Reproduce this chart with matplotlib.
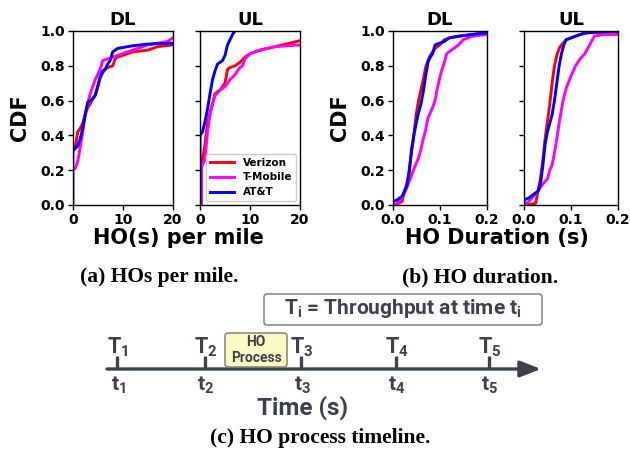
import matplotlib
matplotlib.use('Agg')
import matplotlib.pyplot as plt
from matplotlib.patches import FancyBboxPatch

plt.rcParams['font.family'] = ['DejaVu Sans']
plt.rcParams['mathtext.fontset'] = 'custom'
plt.rcParams['mathtext.rm'] = 'Roboto:bold'
plt.rcParams['mathtext.it'] = 'Roboto:italic'
plt.rcParams['mathtext.bf'] = 'Roboto:bold'

carriers = ['Verizon', 'T-Mobile', 'AT&T']
colors = ['#ff0000', '#ff00ff', '#0000ff']

# ---- (a) HOs per mile, DL ----
hos_dl_vz_x = [0, 0, 0.5, 1, 1.5, 2, 2.5, 3, 3.5, 4, 4.5, 5, 5.5, 6, 6.5, 7, 8, 8.5, 9, 10, 12, 15, 17, 20]
hos_dl_vz_y = [0, 0.31, 0.33, 0.42, 0.44, 0.47, 0.52, 0.56, 0.58, 0.61, 0.63, 0.68, 0.73, 0.76, 0.78, 0.79, 0.80, 0.84, 0.85, 0.86, 0.88, 0.89, 0.91, 0.92]
hos_dl_tm_x = [0, 0, 0.5, 1, 1.5, 2, 2.5, 3, 3.5, 4, 4.5, 5, 5.5, 6, 7, 8, 10, 12, 15, 19, 20]
hos_dl_tm_y = [0, 0.20, 0.21, 0.25, 0.33, 0.42, 0.52, 0.58, 0.64, 0.68, 0.72, 0.75, 0.78, 0.83, 0.84, 0.85, 0.87, 0.89, 0.92, 0.94, 0.96]
hos_dl_att_x = [0, 0, 1, 1.5, 2, 2.5, 3, 3.5, 4, 4.5, 5, 5.5, 6, 6.5, 7, 7.5, 8, 9, 10, 12, 15, 20]
hos_dl_att_y = [0, 0.31, 0.34, 0.38, 0.44, 0.52, 0.59, 0.60, 0.61, 0.63, 0.68, 0.74, 0.77, 0.78, 0.81, 0.83, 0.88, 0.90, 0.905, 0.915, 0.925, 0.93]

# ---- (a) HOs per mile, UL ----
hos_ul_vz_x = [0.3, 0.3, 1, 1.5, 2, 2.5, 3, 4, 5, 5.5, 6, 7, 8, 9, 10, 12, 15, 18, 20]
hos_ul_vz_y = [0, 0.22, 0.35, 0.47, 0.53, 0.58, 0.64, 0.66, 0.70, 0.78, 0.79, 0.80, 0.82, 0.85, 0.87, 0.89, 0.91, 0.93, 0.945]
hos_ul_tm_x = [0.3, 0.3, 1, 1.5, 2, 2.5, 3, 4, 5, 6, 7, 8, 8.5, 9, 10, 12, 15, 20]
hos_ul_tm_y = [0, 0.22, 0.26, 0.42, 0.52, 0.58, 0.63, 0.66, 0.68, 0.72, 0.75, 0.79, 0.80, 0.84, 0.87, 0.89, 0.91, 0.92]
hos_ul_att_x = [0, 0, 0.5, 1, 1.5, 2, 2.5, 3, 3.5, 4.5, 5, 5.5, 6, 6.5, 7]
hos_ul_att_y = [0, 0.40, 0.42, 0.48, 0.55, 0.64, 0.72, 0.77, 0.81, 0.83, 0.86, 0.92, 0.95, 0.98, 1.0]

# ---- (b) HO duration, DL ----
dur_dl_vz_x = [0.005, 0.02, 0.025, 0.03, 0.035, 0.04, 0.045, 0.05, 0.055, 0.06, 0.065, 0.07, 0.075, 0.08, 0.085, 0.09, 0.10, 0.11, 0.12, 0.14, 0.17, 0.20]
dur_dl_vz_y = [0, 0.02, 0.08, 0.12, 0.20, 0.30, 0.40, 0.52, 0.60, 0.66, 0.72, 0.79, 0.83, 0.86, 0.88, 0.90, 0.92, 0.95, 0.96, 0.97, 0.98, 0.99]
dur_dl_tm_x = [0, 0.01, 0.02, 0.03, 0.04, 0.05, 0.055, 0.06, 0.065, 0.07, 0.075, 0.08, 0.085, 0.09, 0.095, 0.10, 0.105, 0.11, 0.115, 0.12, 0.13, 0.14, 0.15, 0.17, 0.20]
dur_dl_tm_y = [0, 0.01, 0.04, 0.10, 0.17, 0.24, 0.27, 0.32, 0.38, 0.43, 0.50, 0.53, 0.56, 0.60, 0.67, 0.73, 0.78, 0.82, 0.87, 0.88, 0.90, 0.92, 0.95, 0.97, 0.98]
dur_dl_att_x = [0, 0, 0.01, 0.02, 0.03, 0.035, 0.04, 0.045, 0.05, 0.055, 0.06, 0.065, 0.07, 0.075, 0.08, 0.085, 0.09, 0.10, 0.11, 0.12, 0.14, 0.17, 0.20]
dur_dl_att_y = [0, 0.02, 0.03, 0.05, 0.11, 0.18, 0.32, 0.40, 0.47, 0.53, 0.58, 0.65, 0.74, 0.82, 0.85, 0.87, 0.92, 0.93, 0.94, 0.96, 0.97, 0.98, 0.99]

# ---- (b) HO duration, UL ----
dur_ul_vz_x = [0.005, 0.025, 0.03, 0.035, 0.04, 0.045, 0.05, 0.055, 0.06, 0.065, 0.07, 0.075, 0.08, 0.09, 0.10, 0.12, 0.14, 0.20]
dur_ul_vz_y = [0, 0.01, 0.08, 0.15, 0.25, 0.38, 0.48, 0.58, 0.70, 0.80, 0.86, 0.90, 0.92, 0.95, 0.96, 0.98, 0.99, 0.995]
dur_ul_tm_x = [0, 0.01, 0.02, 0.03, 0.04, 0.05, 0.055, 0.06, 0.065, 0.07, 0.075, 0.08, 0.085, 0.09, 0.10, 0.11, 0.12, 0.13, 0.14, 0.15, 0.17, 0.20]
dur_ul_tm_y = [0, 0.02, 0.05, 0.08, 0.12, 0.15, 0.20, 0.23, 0.30, 0.38, 0.47, 0.55, 0.62, 0.67, 0.74, 0.80, 0.84, 0.87, 0.92, 0.97, 0.98, 0.98]
dur_ul_att_x = [0, 0, 0.01, 0.02, 0.03, 0.035, 0.04, 0.045, 0.05, 0.055, 0.06, 0.065, 0.07, 0.075, 0.08, 0.085, 0.09, 0.10, 0.11, 0.13, 0.20]
dur_ul_att_y = [0, 0.03, 0.04, 0.06, 0.08, 0.12, 0.22, 0.35, 0.42, 0.47, 0.52, 0.60, 0.70, 0.80, 0.87, 0.92, 0.95, 0.96, 0.97, 0.99, 1.0]

panels = [
    ('DL', [(hos_dl_vz_x, hos_dl_vz_y), (hos_dl_tm_x, hos_dl_tm_y), (hos_dl_att_x, hos_dl_att_y)], (0, 20), [0, 10, 20], ['0', '10', '20']),
    ('UL', [(hos_ul_vz_x, hos_ul_vz_y), (hos_ul_tm_x, hos_ul_tm_y), (hos_ul_att_x, hos_ul_att_y)], (0, 20), [0, 10, 20], ['0', '10', '20']),
    ('DL', [(dur_dl_vz_x, dur_dl_vz_y), (dur_dl_tm_x, dur_dl_tm_y), (dur_dl_att_x, dur_dl_att_y)], (0, 0.2), [0, 0.1, 0.2], ['0.0', '0.1', '0.2']),
    ('UL', [(dur_ul_vz_x, dur_ul_vz_y), (dur_ul_tm_x, dur_ul_tm_y), (dur_ul_att_x, dur_ul_att_y)], (0, 0.2), [0, 0.1, 0.2], ['0.0', '0.1', '0.2']),
]
y_ticks = [0.0, 0.2, 0.4, 0.6, 0.8, 1.0]
y_ticklabels = ['0.0', '0.2', '0.4', '0.6', '0.8', '1.0']

timeline_idx = ['1', '2', '3', '4', '5']

W, H = 630, 450
fig = plt.figure(figsize=(6.3, 4.5), dpi=100)


def rect(l, t, r, b):
    return [l / W, 1 - b / H, (r - l) / W, (b - t) / H]


boxes = [(72.7, 31, 172.7, 205), (200, 31, 300, 205), (392.7, 31, 486.7, 205), (524, 31, 617.7, 205)]
for i, (title, series, xlim, xt, xtl) in enumerate(panels):
    ax = fig.add_axes(rect(*boxes[i]))
    for (xs, ys), c, name in zip(series, colors, carriers):
        ax.plot(xs, ys, color=c, lw=2.1, label=name, solid_joinstyle='round')
    ax.set_xlim(*xlim)
    ax.set_ylim(0, 1)
    ax.set_xticks(xt)
    ax.set_xticklabels(xtl, fontsize=10, fontweight='bold')
    ax.set_yticks(y_ticks)
    if i in (0, 2):
        ax.set_yticklabels(y_ticklabels, fontsize=10, fontweight='bold')
    else:
        ax.set_yticklabels([])
    ax.tick_params(length=3.5, width=1, pad=2)
    ax.set_title(title, fontsize=13, fontweight='bold', pad=4)
    for s in ax.spines.values():
        s.set_linewidth(1)
    if i == 1:
        ax.legend(loc='lower right', prop={'weight': 'bold', 'size': 7.5},
                  handlelength=2.3, borderaxespad=0.35, labelspacing=0.45,
                  handletextpad=0.8, framealpha=1, edgecolor='#cccccc')

fig.text(20 / W, 1 - 118 / H, 'CDF', rotation=90, ha='center', va='center', fontsize=15, fontweight='bold')
fig.text(340 / W, 1 - 118 / H, 'CDF', rotation=90, ha='center', va='center', fontsize=15, fontweight='bold')
fig.text(178 / W, 1 - 238 / H, 'HO(s) per mile', ha='center', va='center', fontsize=15, fontweight='bold')
fig.text(497 / W, 1 - 238 / H, 'HO Duration (s)', ha='center', va='center', fontsize=15, fontweight='bold')

cap = dict(ha='center', va='center', fontsize=15.5, fontweight='bold', family=['Liberation Serif', 'DejaVu Serif'])
fig.text(159 / W, 1 - 277 / H, '(a) HOs per mile.', **cap)
fig.text(480 / W, 1 - 277 / H, '(b) HO duration.', **cap)
fig.text(320 / W, 1 - 438 / H, '(c) HO process timeline.', **cap)

# ---- timeline diagram ----
dark = '#3b424e'
ov = fig.add_axes([0, 0, 1, 1])
ov.set_xlim(0, W)
ov.set_ylim(H, 0)
ov.axis('off')
ov.patch.set_visible(False)

tick_x = [117, 205, 301, 396, 489]
line_y = 369
ov.annotate('', xy=(541, line_y), xytext=(107, line_y),
            arrowprops=dict(arrowstyle='-|>,head_length=0.9,head_width=0.35', lw=2.4,
                            color=dark, shrinkA=0, shrinkB=0, mutation_scale=14))
for x, k in zip(tick_x, timeline_idx):
    ov.plot([x, x], [356, line_y], color=dark, lw=2.4, solid_capstyle='butt')
    ov.text(x + 1, 347, r'$\mathrm{T}_{\mathrm{%s}}$' % k, ha='center', va='center', fontsize=15.5, color=dark)
    ov.text(x + 1, 385, r'$\mathrm{t}_{\mathrm{%s}}$' % k, ha='center', va='center', fontsize=15, color=dark)

ov.add_patch(FancyBboxPatch((225, 333), 62, 34, boxstyle='round,pad=0,rounding_size=3',
                            facecolor='#fdf9c3', edgecolor='#77776a', lw=1, zorder=3))
ov.text(256, 350, 'HO\nProcess', ha='center', va='center', fontsize=10, color=dark,
        family=['Roboto', 'DejaVu Sans'], fontweight='bold', linespacing=1.1, zorder=4)

ov.add_patch(FancyBboxPatch((264, 294), 278, 31, boxstyle='round,pad=0,rounding_size=3',
                            facecolor='white', edgecolor='#777777', lw=1, zorder=3))
ov.text(403, 309, r'$\mathrm{T_i}$ = Throughput at time $\mathrm{t_i}$', ha='center', va='center',
        fontsize=15, color=dark, family=['Roboto', 'DejaVu Sans'], fontweight='bold', zorder=4)

ov.text(303, 408, 'Time (s)', ha='center', va='center', fontsize=17.5, color=dark,
        family=['Roboto', 'DejaVu Sans'], fontweight='bold')

fig.savefig('out.png', dpi=100)
